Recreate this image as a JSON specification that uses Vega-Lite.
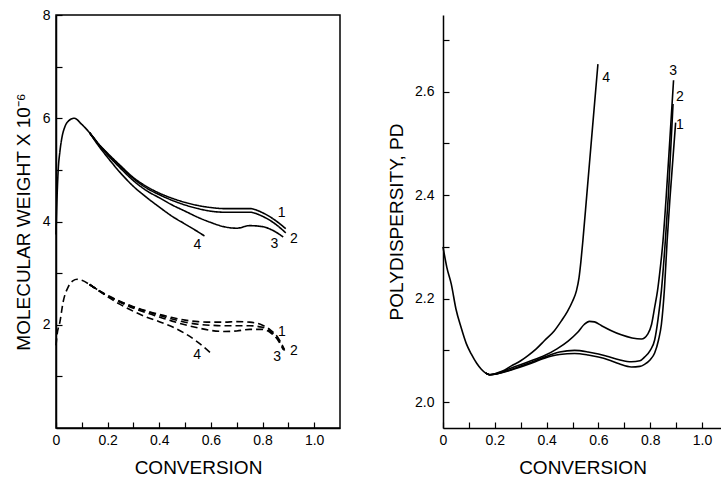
{
  "$schema": "https://vega.github.io/schema/vega-lite/v6.json",
  "background": "white",
  "padding": {"left": 13, "top": 7, "right": 0, "bottom": 0},
  "spacing": 103,
  "bounds": "flush",
  "config": {
    "font": "Liberation Sans",
    "view": {"stroke": "black", "strokeWidth": 1.5},
    "axis": {
      "grid": false,
      "domainColor": "black",
      "domainWidth": 1.5,
      "tickColor": "black",
      "tickWidth": 1.2,
      "tickSize": -6,
      "labelColor": "black",
      "labelFont": "Liberation Sans",
      "labelFontSize": 14,
      "labelFlush": false,
      "labelOverlap": false,
      "titleFont": "Liberation Sans",
      "titleFontSize": 19,
      "titleFontWeight": "normal",
      "titleColor": "black"
    }
  },
  "datasets": {
    "mw": [
      {"s": "s0", "k": "solid", "x": 0, "y": 3.75},
      {"s": "s0", "k": "solid", "x": 0.003, "y": 4.3},
      {"s": "s0", "k": "solid", "x": 0.008, "y": 4.95},
      {"s": "s0", "k": "solid", "x": 0.015, "y": 5.35},
      {"s": "s0", "k": "solid", "x": 0.022, "y": 5.6},
      {"s": "s0", "k": "solid", "x": 0.034, "y": 5.83},
      {"s": "s0", "k": "solid", "x": 0.047, "y": 5.94},
      {"s": "s0", "k": "solid", "x": 0.07, "y": 6.0},
      {"s": "s0", "k": "solid", "x": 0.1, "y": 5.88},
      {"s": "s0", "k": "solid", "x": 0.13, "y": 5.72},
      {"s": "s0", "k": "solid", "x": 0.16, "y": 5.53},

      {"s": "s1", "k": "solid", "x": 0.13, "y": 5.72},
      {"s": "s1", "k": "solid", "x": 0.16, "y": 5.53},
      {"s": "s1", "k": "solid", "x": 0.2, "y": 5.32},
      {"s": "s1", "k": "solid", "x": 0.25, "y": 5.08},
      {"s": "s1", "k": "solid", "x": 0.3, "y": 4.85},
      {"s": "s1", "k": "solid", "x": 0.35, "y": 4.68},
      {"s": "s1", "k": "solid", "x": 0.4, "y": 4.55},
      {"s": "s1", "k": "solid", "x": 0.45, "y": 4.45},
      {"s": "s1", "k": "solid", "x": 0.5, "y": 4.37},
      {"s": "s1", "k": "solid", "x": 0.55, "y": 4.31},
      {"s": "s1", "k": "solid", "x": 0.6, "y": 4.27},
      {"s": "s1", "k": "solid", "x": 0.65, "y": 4.25},
      {"s": "s1", "k": "solid", "x": 0.7, "y": 4.25},
      {"s": "s1", "k": "solid", "x": 0.75, "y": 4.25},
      {"s": "s1", "k": "solid", "x": 0.8, "y": 4.17},
      {"s": "s1", "k": "solid", "x": 0.85, "y": 4.02},
      {"s": "s1", "k": "solid", "x": 0.89, "y": 3.86},

      {"s": "s2", "k": "solid", "x": 0.13, "y": 5.72},
      {"s": "s2", "k": "solid", "x": 0.16, "y": 5.53},
      {"s": "s2", "k": "solid", "x": 0.2, "y": 5.31},
      {"s": "s2", "k": "solid", "x": 0.25, "y": 5.06},
      {"s": "s2", "k": "solid", "x": 0.3, "y": 4.83},
      {"s": "s2", "k": "solid", "x": 0.35, "y": 4.65},
      {"s": "s2", "k": "solid", "x": 0.4, "y": 4.52},
      {"s": "s2", "k": "solid", "x": 0.45, "y": 4.41},
      {"s": "s2", "k": "solid", "x": 0.5, "y": 4.32},
      {"s": "s2", "k": "solid", "x": 0.55, "y": 4.25},
      {"s": "s2", "k": "solid", "x": 0.6, "y": 4.2},
      {"s": "s2", "k": "solid", "x": 0.65, "y": 4.18},
      {"s": "s2", "k": "solid", "x": 0.7, "y": 4.18},
      {"s": "s2", "k": "solid", "x": 0.75, "y": 4.18},
      {"s": "s2", "k": "solid", "x": 0.8, "y": 4.1},
      {"s": "s2", "k": "solid", "x": 0.85, "y": 3.95},
      {"s": "s2", "k": "solid", "x": 0.89, "y": 3.78},

      {"s": "s3", "k": "solid", "x": 0.13, "y": 5.72},
      {"s": "s3", "k": "solid", "x": 0.16, "y": 5.52},
      {"s": "s3", "k": "solid", "x": 0.2, "y": 5.29},
      {"s": "s3", "k": "solid", "x": 0.25, "y": 5.03},
      {"s": "s3", "k": "solid", "x": 0.3, "y": 4.79},
      {"s": "s3", "k": "solid", "x": 0.35, "y": 4.6},
      {"s": "s3", "k": "solid", "x": 0.4, "y": 4.46},
      {"s": "s3", "k": "solid", "x": 0.45, "y": 4.32},
      {"s": "s3", "k": "solid", "x": 0.5, "y": 4.2},
      {"s": "s3", "k": "solid", "x": 0.55, "y": 4.08},
      {"s": "s3", "k": "solid", "x": 0.6, "y": 3.98},
      {"s": "s3", "k": "solid", "x": 0.65, "y": 3.9},
      {"s": "s3", "k": "solid", "x": 0.7, "y": 3.87},
      {"s": "s3", "k": "solid", "x": 0.75, "y": 3.92},
      {"s": "s3", "k": "solid", "x": 0.8, "y": 3.9},
      {"s": "s3", "k": "solid", "x": 0.85, "y": 3.8},
      {"s": "s3", "k": "solid", "x": 0.88, "y": 3.7},

      {"s": "s4", "k": "solid", "x": 0.13, "y": 5.72},
      {"s": "s4", "k": "solid", "x": 0.16, "y": 5.5},
      {"s": "s4", "k": "solid", "x": 0.2, "y": 5.24},
      {"s": "s4", "k": "solid", "x": 0.25, "y": 4.94},
      {"s": "s4", "k": "solid", "x": 0.3, "y": 4.68},
      {"s": "s4", "k": "solid", "x": 0.35, "y": 4.47},
      {"s": "s4", "k": "solid", "x": 0.4, "y": 4.28},
      {"s": "s4", "k": "solid", "x": 0.45, "y": 4.1},
      {"s": "s4", "k": "solid", "x": 0.5, "y": 3.95},
      {"s": "s4", "k": "solid", "x": 0.55, "y": 3.8},
      {"s": "s4", "k": "solid", "x": 0.575, "y": 3.72},

      {"s": "d0", "k": "dashed", "x": 0, "y": 1.6},
      {"s": "d0", "k": "dashed", "x": 0.004, "y": 1.8},
      {"s": "d0", "k": "dashed", "x": 0.015, "y": 2.05},
      {"s": "d0", "k": "dashed", "x": 0.028, "y": 2.45},
      {"s": "d0", "k": "dashed", "x": 0.047, "y": 2.73},
      {"s": "d0", "k": "dashed", "x": 0.065, "y": 2.85},
      {"s": "d0", "k": "dashed", "x": 0.082, "y": 2.88},
      {"s": "d0", "k": "dashed", "x": 0.1, "y": 2.86},
      {"s": "d0", "k": "dashed", "x": 0.13, "y": 2.78},
      {"s": "d0", "k": "dashed", "x": 0.16, "y": 2.68},

      {"s": "d1", "k": "dashed", "x": 0.13, "y": 2.78},
      {"s": "d1", "k": "dashed", "x": 0.16, "y": 2.68},
      {"s": "d1", "k": "dashed", "x": 0.2, "y": 2.57},
      {"s": "d1", "k": "dashed", "x": 0.25, "y": 2.45},
      {"s": "d1", "k": "dashed", "x": 0.3, "y": 2.35},
      {"s": "d1", "k": "dashed", "x": 0.35, "y": 2.27},
      {"s": "d1", "k": "dashed", "x": 0.4, "y": 2.2},
      {"s": "d1", "k": "dashed", "x": 0.45, "y": 2.14},
      {"s": "d1", "k": "dashed", "x": 0.5, "y": 2.09},
      {"s": "d1", "k": "dashed", "x": 0.55, "y": 2.06},
      {"s": "d1", "k": "dashed", "x": 0.6, "y": 2.05},
      {"s": "d1", "k": "dashed", "x": 0.65, "y": 2.05},
      {"s": "d1", "k": "dashed", "x": 0.7, "y": 2.06},
      {"s": "d1", "k": "dashed", "x": 0.75, "y": 2.05},
      {"s": "d1", "k": "dashed", "x": 0.8, "y": 1.99},
      {"s": "d1", "k": "dashed", "x": 0.83, "y": 1.9},
      {"s": "d1", "k": "dashed", "x": 0.86, "y": 1.75},
      {"s": "d1", "k": "dashed", "x": 0.885, "y": 1.52},

      {"s": "d2", "k": "dashed", "x": 0.13, "y": 2.78},
      {"s": "d2", "k": "dashed", "x": 0.16, "y": 2.68},
      {"s": "d2", "k": "dashed", "x": 0.2, "y": 2.56},
      {"s": "d2", "k": "dashed", "x": 0.25, "y": 2.44},
      {"s": "d2", "k": "dashed", "x": 0.3, "y": 2.34},
      {"s": "d2", "k": "dashed", "x": 0.35, "y": 2.26},
      {"s": "d2", "k": "dashed", "x": 0.4, "y": 2.18},
      {"s": "d2", "k": "dashed", "x": 0.45, "y": 2.11},
      {"s": "d2", "k": "dashed", "x": 0.5, "y": 2.05},
      {"s": "d2", "k": "dashed", "x": 0.55, "y": 2.01},
      {"s": "d2", "k": "dashed", "x": 0.6, "y": 1.99},
      {"s": "d2", "k": "dashed", "x": 0.65, "y": 1.98},
      {"s": "d2", "k": "dashed", "x": 0.7, "y": 1.98},
      {"s": "d2", "k": "dashed", "x": 0.75, "y": 1.98},
      {"s": "d2", "k": "dashed", "x": 0.8, "y": 1.95},
      {"s": "d2", "k": "dashed", "x": 0.83, "y": 1.87},
      {"s": "d2", "k": "dashed", "x": 0.86, "y": 1.72},
      {"s": "d2", "k": "dashed", "x": 0.885, "y": 1.5},

      {"s": "d3", "k": "dashed", "x": 0.13, "y": 2.78},
      {"s": "d3", "k": "dashed", "x": 0.16, "y": 2.68},
      {"s": "d3", "k": "dashed", "x": 0.2, "y": 2.56},
      {"s": "d3", "k": "dashed", "x": 0.25, "y": 2.43},
      {"s": "d3", "k": "dashed", "x": 0.3, "y": 2.32},
      {"s": "d3", "k": "dashed", "x": 0.35, "y": 2.23},
      {"s": "d3", "k": "dashed", "x": 0.4, "y": 2.15},
      {"s": "d3", "k": "dashed", "x": 0.45, "y": 2.07},
      {"s": "d3", "k": "dashed", "x": 0.5, "y": 2.0},
      {"s": "d3", "k": "dashed", "x": 0.55, "y": 1.94},
      {"s": "d3", "k": "dashed", "x": 0.6, "y": 1.89},
      {"s": "d3", "k": "dashed", "x": 0.65, "y": 1.87},
      {"s": "d3", "k": "dashed", "x": 0.7, "y": 1.88},
      {"s": "d3", "k": "dashed", "x": 0.75, "y": 1.91},
      {"s": "d3", "k": "dashed", "x": 0.8, "y": 1.91},
      {"s": "d3", "k": "dashed", "x": 0.83, "y": 1.85},
      {"s": "d3", "k": "dashed", "x": 0.86, "y": 1.7},
      {"s": "d3", "k": "dashed", "x": 0.88, "y": 1.52},

      {"s": "d4", "k": "dashed", "x": 0.13, "y": 2.78},
      {"s": "d4", "k": "dashed", "x": 0.16, "y": 2.68},
      {"s": "d4", "k": "dashed", "x": 0.2, "y": 2.54},
      {"s": "d4", "k": "dashed", "x": 0.25, "y": 2.39},
      {"s": "d4", "k": "dashed", "x": 0.3, "y": 2.26},
      {"s": "d4", "k": "dashed", "x": 0.35, "y": 2.15},
      {"s": "d4", "k": "dashed", "x": 0.4, "y": 2.06},
      {"s": "d4", "k": "dashed", "x": 0.45, "y": 1.96},
      {"s": "d4", "k": "dashed", "x": 0.5, "y": 1.83},
      {"s": "d4", "k": "dashed", "x": 0.55, "y": 1.66},
      {"s": "d4", "k": "dashed", "x": 0.6, "y": 1.45}
    ],
    "mwlab": [
      {"t": "1", "x": 0.874, "y": 4.16},
      {"t": "2", "x": 0.921, "y": 3.67},
      {"t": "3", "x": 0.846, "y": 3.57},
      {"t": "4", "x": 0.548, "y": 3.55},
      {"t": "1", "x": 0.875, "y": 1.86},
      {"t": "2", "x": 0.921, "y": 1.49},
      {"t": "3", "x": 0.857, "y": 1.38},
      {"t": "4", "x": 0.547, "y": 1.41}
    ],
    "pd": [
      {"s": "p0", "x": 0, "y": 2.3},
      {"s": "p0", "x": 0.015, "y": 2.26},
      {"s": "p0", "x": 0.032, "y": 2.228},
      {"s": "p0", "x": 0.05, "y": 2.18},
      {"s": "p0", "x": 0.07, "y": 2.144},
      {"s": "p0", "x": 0.09, "y": 2.113},
      {"s": "p0", "x": 0.109, "y": 2.093},
      {"s": "p0", "x": 0.13, "y": 2.075},
      {"s": "p0", "x": 0.147, "y": 2.064},
      {"s": "p0", "x": 0.165, "y": 2.056},
      {"s": "p0", "x": 0.18, "y": 2.053},

      {"s": "p4", "x": 0.165, "y": 2.056},
      {"s": "p4", "x": 0.18, "y": 2.053},
      {"s": "p4", "x": 0.2, "y": 2.055},
      {"s": "p4", "x": 0.23, "y": 2.06},
      {"s": "p4", "x": 0.264, "y": 2.07},
      {"s": "p4", "x": 0.3, "y": 2.08},
      {"s": "p4", "x": 0.328, "y": 2.09},
      {"s": "p4", "x": 0.36, "y": 2.103},
      {"s": "p4", "x": 0.392, "y": 2.119},
      {"s": "p4", "x": 0.43, "y": 2.138},
      {"s": "p4", "x": 0.457, "y": 2.157},
      {"s": "p4", "x": 0.48, "y": 2.175},
      {"s": "p4", "x": 0.5, "y": 2.195},
      {"s": "p4", "x": 0.515, "y": 2.215},
      {"s": "p4", "x": 0.525, "y": 2.24},
      {"s": "p4", "x": 0.532, "y": 2.27},
      {"s": "p4", "x": 0.54, "y": 2.312},
      {"s": "p4", "x": 0.555, "y": 2.4},
      {"s": "p4", "x": 0.577, "y": 2.53},
      {"s": "p4", "x": 0.598, "y": 2.653},

      {"s": "p3", "x": 0.165, "y": 2.056},
      {"s": "p3", "x": 0.18, "y": 2.053},
      {"s": "p3", "x": 0.2, "y": 2.054},
      {"s": "p3", "x": 0.264, "y": 2.066},
      {"s": "p3", "x": 0.33, "y": 2.078},
      {"s": "p3", "x": 0.392, "y": 2.09},
      {"s": "p3", "x": 0.44, "y": 2.103},
      {"s": "p3", "x": 0.483, "y": 2.118},
      {"s": "p3", "x": 0.52, "y": 2.135},
      {"s": "p3", "x": 0.545, "y": 2.15},
      {"s": "p3", "x": 0.565, "y": 2.156},
      {"s": "p3", "x": 0.585, "y": 2.155},
      {"s": "p3", "x": 0.611, "y": 2.148},
      {"s": "p3", "x": 0.65, "y": 2.138},
      {"s": "p3", "x": 0.688, "y": 2.13},
      {"s": "p3", "x": 0.73, "y": 2.124},
      {"s": "p3", "x": 0.766, "y": 2.122},
      {"s": "p3", "x": 0.791, "y": 2.132},
      {"s": "p3", "x": 0.805, "y": 2.15},
      {"s": "p3", "x": 0.817, "y": 2.183},
      {"s": "p3", "x": 0.828, "y": 2.215},
      {"s": "p3", "x": 0.836, "y": 2.247},
      {"s": "p3", "x": 0.849, "y": 2.31},
      {"s": "p3", "x": 0.862, "y": 2.4},
      {"s": "p3", "x": 0.876, "y": 2.51},
      {"s": "p3", "x": 0.89, "y": 2.622},

      {"s": "p2", "x": 0.165, "y": 2.056},
      {"s": "p2", "x": 0.18, "y": 2.053},
      {"s": "p2", "x": 0.2, "y": 2.054},
      {"s": "p2", "x": 0.264, "y": 2.063},
      {"s": "p2", "x": 0.33, "y": 2.075},
      {"s": "p2", "x": 0.392, "y": 2.087},
      {"s": "p2", "x": 0.45, "y": 2.097},
      {"s": "p2", "x": 0.508, "y": 2.1},
      {"s": "p2", "x": 0.56, "y": 2.097},
      {"s": "p2", "x": 0.6, "y": 2.093},
      {"s": "p2", "x": 0.637, "y": 2.088},
      {"s": "p2", "x": 0.68, "y": 2.082},
      {"s": "p2", "x": 0.727, "y": 2.078},
      {"s": "p2", "x": 0.76, "y": 2.08},
      {"s": "p2", "x": 0.778, "y": 2.087},
      {"s": "p2", "x": 0.8, "y": 2.1},
      {"s": "p2", "x": 0.817, "y": 2.12},
      {"s": "p2", "x": 0.83, "y": 2.16},
      {"s": "p2", "x": 0.843, "y": 2.215},
      {"s": "p2", "x": 0.858, "y": 2.31},
      {"s": "p2", "x": 0.87, "y": 2.4},
      {"s": "p2", "x": 0.888, "y": 2.576},

      {"s": "p1", "x": 0.165, "y": 2.056},
      {"s": "p1", "x": 0.18, "y": 2.053},
      {"s": "p1", "x": 0.2, "y": 2.054},
      {"s": "p1", "x": 0.264, "y": 2.062},
      {"s": "p1", "x": 0.33, "y": 2.073},
      {"s": "p1", "x": 0.392, "y": 2.085},
      {"s": "p1", "x": 0.45, "y": 2.092},
      {"s": "p1", "x": 0.508, "y": 2.094},
      {"s": "p1", "x": 0.56, "y": 2.091},
      {"s": "p1", "x": 0.6, "y": 2.087},
      {"s": "p1", "x": 0.637, "y": 2.082},
      {"s": "p1", "x": 0.68, "y": 2.074},
      {"s": "p1", "x": 0.727, "y": 2.068},
      {"s": "p1", "x": 0.76, "y": 2.069},
      {"s": "p1", "x": 0.778, "y": 2.073},
      {"s": "p1", "x": 0.8, "y": 2.082},
      {"s": "p1", "x": 0.817, "y": 2.095},
      {"s": "p1", "x": 0.832, "y": 2.12},
      {"s": "p1", "x": 0.843, "y": 2.15},
      {"s": "p1", "x": 0.855, "y": 2.22},
      {"s": "p1", "x": 0.865, "y": 2.31},
      {"s": "p1", "x": 0.877, "y": 2.4},
      {"s": "p1", "x": 0.898, "y": 2.54}
    ],
    "pdlab": [
      {"t": "4", "x": 0.63, "y": 2.626},
      {"t": "3", "x": 0.888, "y": 2.64},
      {"t": "2", "x": 0.914, "y": 2.589},
      {"t": "1", "x": 0.914, "y": 2.536}
    ]
  },
  "hconcat": [
    {
      "width": 284,
      "height": 413,
      "encoding": {
        "x": {
          "field": "x", "type": "quantitative",
          "scale": {"domain": [0, 1.1], "nice": false, "zero": false},
          "title": "CONVERSION",
          "axis": {
            "values": [0, 0.1, 0.2, 0.3, 0.4, 0.5, 0.6, 0.7, 0.8, 0.9, 1.0],
            "labelExpr": "datum.value == 0 ? '0' : (round(datum.value * 10) % 2 == 0 ? format(datum.value, '.1f') : '')",
            "labelPadding": 11,
            "titlePadding": 11
          }
        },
        "y": {
          "field": "y", "type": "quantitative",
          "scale": {"domain": [0, 8], "nice": false, "zero": false},
          "title": "MOLECULAR WEIGHT X 10⁻⁶",
          "axis": {
            "values": [1, 2, 3, 4, 5, 6, 7, 8],
            "labelExpr": "datum.value % 2 == 0 ? format(datum.value, 'd') : ''",
            "labelPadding": 12,
            "titlePadding": 9
          }
        }
      },
      "layer": [
        {
          "data": {"name": "mw"},
          "mark": {"type": "line", "interpolate": "monotone", "color": "black", "strokeWidth": 1.6},
          "encoding": {
            "detail": {"field": "s", "type": "nominal"},
            "strokeDash": {
              "field": "k", "type": "nominal",
              "scale": {"domain": ["solid", "dashed"], "range": [[1, 0], [7, 4]]},
              "legend": null
            }
          }
        },
        {
          "data": {"name": "mwlab"},
          "mark": {"type": "text", "fontSize": 14, "color": "black", "align": "center", "baseline": "middle"},
          "encoding": {"text": {"field": "t", "type": "nominal"}}
        }
      ]
    },
    {
      "width": 279,
      "height": 413,
      "view": {"stroke": null},
      "encoding": {
        "x": {
          "field": "x", "type": "quantitative",
          "scale": {"domain": [0, 1.077], "nice": false, "zero": false},
          "title": "CONVERSION",
          "axis": {
            "values": [0, 0.1, 0.2, 0.3, 0.4, 0.5, 0.6, 0.7, 0.8, 0.9, 1.0],
            "labelExpr": "datum.value == 0 ? '0' : (round(datum.value * 10) % 2 == 0 ? format(datum.value, '.1f') : '')",
            "labelPadding": 11,
            "titlePadding": 11
          }
        },
        "y": {
          "field": "y", "type": "quantitative",
          "scale": {"domain": [1.95, 2.748], "nice": false, "zero": false},
          "title": "POLYDISPERSITY, PD",
          "axis": {
            "values": [2.0, 2.1, 2.2, 2.3, 2.4, 2.5, 2.6, 2.7],
            "labelExpr": "round(datum.value * 10) % 2 == 0 ? format(datum.value, '.1f') : ''",
            "labelPadding": 15,
            "titlePadding": 8
          }
        }
      },
      "layer": [
        {
          "data": {"name": "pd"},
          "mark": {"type": "line", "interpolate": "monotone", "color": "black", "strokeWidth": 1.6},
          "encoding": {"detail": {"field": "s", "type": "nominal"}}
        },
        {
          "data": {"name": "pdlab"},
          "mark": {"type": "text", "fontSize": 14, "color": "black", "align": "center", "baseline": "middle"},
          "encoding": {"text": {"field": "t", "type": "nominal"}}
        },
        {
          "mark": {"type": "rule", "color": "black", "strokeWidth": 1.5},
          "encoding": {"y": {"datum": 2.748}, "x": null}
        }
      ]
    }
  ]
}
